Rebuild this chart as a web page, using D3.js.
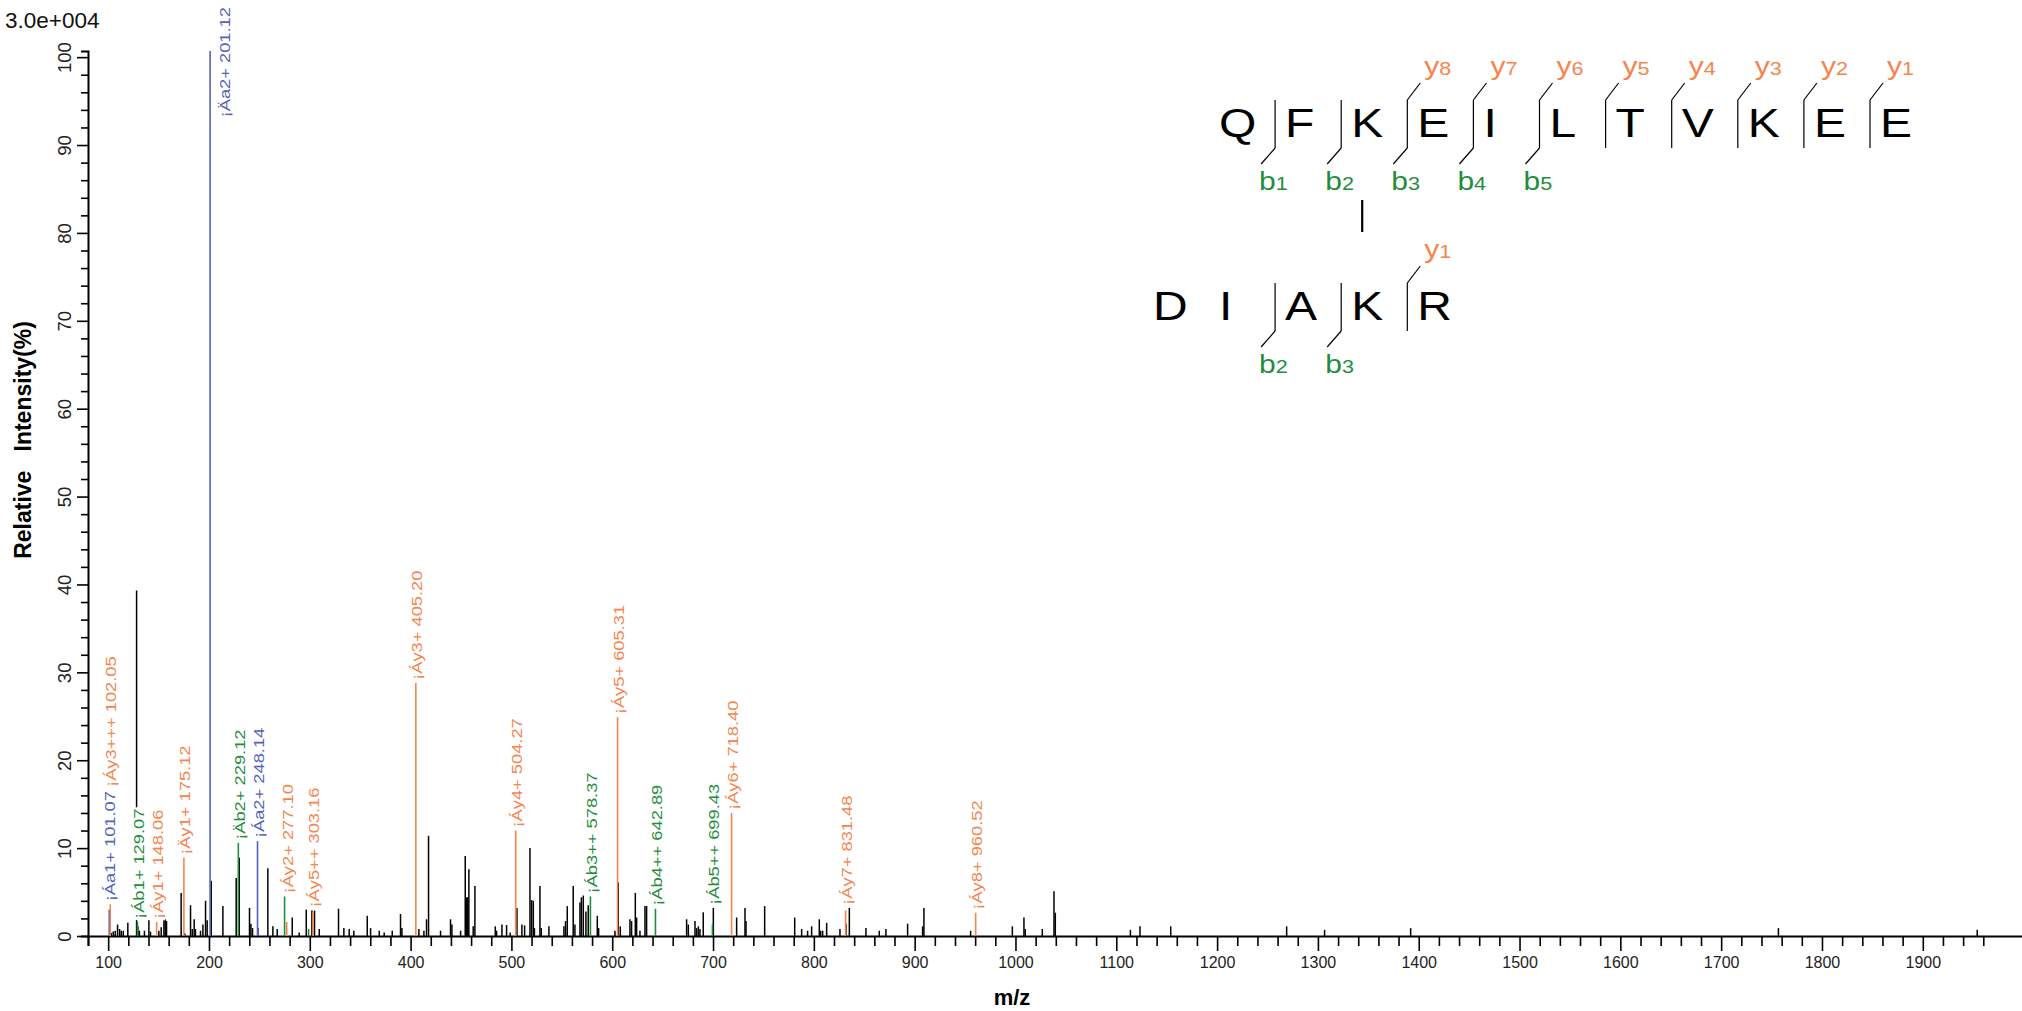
<!DOCTYPE html>
<html><head><meta charset="utf-8">
<script src="https://cdn.jsdelivr.net/npm/d3@7"></script>
<style>
html,body{margin:0;padding:0;background:#fff;}
svg{display:block;font-family:"Liberation Sans",Arial,sans-serif;}
</style></head>
<body>
<svg id="chart" width="2022" height="1011"></svg>
<script>
// ---------------- DATA ----------------
const scaleLabel = "3.0e+004";
const xTitle = "m/z";
const yTitle = "Relative   Intensity(%)";
const xTickValues = d3.range(80, 1961, 20);
const yTickValues = d3.range(0, 101, 2);

// unannotated (black) peaks: m/z, relative intensity
const blackMz = [103.0,105.0,107.0,109.3,111.3,113.0,115.0,119.5,128.2,129.5,131.0,136.0,140.4,142.0,150.3,152.6,155.3,156.6,157.9,
 172.4,176.0,181.7,183.4,185.3,186.6,191.6,194.0,196.6,198.2,202.2,213.8,227.0,230.0,240.2,241.6,243.2,248.5,258.4,263.4,267.7,
 282.6,289.5,296.5,302.1,304.7,309.4,328.5,333.8,339.1,343.7,357.0,360.3,368.9,373.8,381.8,390.0,391.4,408.2,413.2,415.8,417.8,
 429.7,439.6,441.0,449.6,454.2,455.5,456.7,457.8,462.1,463.8,484.0,485.3,490.6,495.2,498.8,505.5,510.4,513.1,518.4,520.0,521.7,
 522.8,528.3,529.6,537.2,552.1,553.7,555.4,561.3,563.0,568.0,569.4,571.3,573.9,576.2,585.2,586.5,602.7,606.0,608.0,617.6,619.2,
 622.9,624.2,627.5,632.5,634.1,673.8,675.5,682.1,683.7,685.4,687.0,690.3,700.3,723.4,731.7,732.7,751.2,781.0,787.9,793.8,797.8,
 805.4,806.7,808.7,812.7,825.9,831.9,835.2,851.7,864.9,871.5,893.0,907.9,909.2,955.5,996.9,1008.4,1009.7,1026.6,1038.2,1039.5,
 1114.0,1123.5,1154.0,1269.0,1306.6,1392.0,1756.8,1954.0];
const blackInt = [0.35,0.5,0.6,1.3,0.8,0.6,0.6,1.5,39.3,1.1,0.6,0.6,1.8,0.5,0.6,1.0,1.8,1.9,1.7,
 4.9,0.3,3.5,0.8,1.9,0.8,0.6,1.3,4.0,1.8,6.3,3.4,6.6,8.9,3.2,1.4,0.9,0.9,7.7,1.1,0.8,
 2.1,0.4,3.0,2.9,2.9,0.8,3.1,0.9,0.8,0.6,2.3,0.9,0.6,0.4,0.6,2.5,0.9,0.8,0.6,1.9,11.4,
 0.6,1.9,1.3,0.6,9.1,4.4,4.4,7.6,1.1,5.7,1.1,0.6,1.3,1.25,0.4,3.2,1.3,1.2,10.0,4.1,4.0,
 0.9,5.7,0.9,1.1,1.1,1.7,3.4,5.7,1.3,3.8,4.4,4.6,2.8,3.5,2.3,0.9,0.6,6.1,1.1,1.9,1.7,
 4.9,2.1,0.6,3.4,3.4,1.9,1.3,1.7,0.9,1.1,0.8,2.7,3.2,2.1,3.2,1.7,3.4,2.1,0.8,0.6,1.1,
 1.9,0.6,0.6,1.5,0.8,1.4,3.2,0.9,0.6,0.8,1.4,1.1,3.2,0.6,1.1,2.1,0.8,0.8,5.1,2.65,
 0.7,1.1,1.1,1.1,0.7,0.9,0.9,0.7];

// annotated fragment peaks
const ionMz   = [101.07,102.05,129.07,148.06,175.12,201.12,229.12,248.14,277.10,303.16,405.20,504.27,578.37,605.31,642.89,699.43,718.40,831.48,960.52];
const ionInt  = [3.0,3.6,1.6,1.6,8.9,100.7,10.6,10.8,1.6,2.7,28.8,12.0,4.5,24.9,3.1,1.3,14.0,2.9,2.65];
const ionType = ["a","y","b","y","y","a","b","a","y","y","y","y","b","y","b","b","y","y","y"];
const ionText = ["¡Áa1+ 101.07","¡Áy3+++ 102.05","¡Áb1+ 129.07","¡Áy1+ 148.06","¡Äy1+ 175.12","¡Äa2+ 201.12","¡Äb2+ 229.12",
 "¡Áa2+ 248.14","¡Áy2+ 277.10","¡Áy5++ 303.16","¡Áy3+ 405.20","¡Áy4+ 504.27","¡Áb3++ 578.37","¡Áy5+ 605.31","¡Áb4++ 642.89",
 "¡Áb5++ 699.43","¡Áy6+ 718.40","¡Áy7+ 831.48","¡Áy8+ 960.52"];
// matched but unlabeled coloured peaks
const extraMz = [275.0, 298.8];
const extraInt = [4.5, 0.8];
const extraType = ["b","b"];

// peptide sequences (cross-linked)
const seqTop = ["Q","F","K","E","I","L","T","V","K","E","E"];
const seqTopB = [1,2,3,4,5];
const seqTopY = [1,2,3,4,5,6,7,8];
const seqBottom = ["D","I","A","K","R"];
const seqBottomB = [2,3];
const seqBottomY = [1];
const linkTop = 2, linkBottom = 3;

// ---------------- STYLE ----------------
const color = {a:"#5462BC", b:"#1F8E3C", y:"#F5844F", black:"#000"};

const svg = d3.select("#chart");
const x = d3.scaleLinear().domain([80, 2000]).range([88, 2023.6]);
const y = d3.scaleLinear().domain([0, 100.7]).range([936, 51]);

// ---- axes ----
const gx = svg.append("g").attr("transform", `translate(0,${y(0)})`)
  .call(d3.axisBottom(x).tickValues(xTickValues).tickSizeOuter(0).tickSize(10)
    .tickFormat(d => d % 100 === 0 ? d : ""));
gx.select(".domain").attr("stroke", "#000").attr("stroke-width", 2);
gx.selectAll(".tick line").attr("stroke", "#000").attr("stroke-width", 1.6)
  .attr("y2", d => d % 100 === 0 ? 15 : 10);
gx.selectAll(".tick text").attr("y", 21).attr("dy", "0.71em")
  .attr("font-size", 16).attr("font-family", "Liberation Sans, Arial").attr("fill", "#222");

const gy = svg.append("g").attr("transform", `translate(${x(80)},0)`)
  .call(d3.axisLeft(y).tickValues(yTickValues).tickSizeOuter(0).tickSize(7)
    .tickFormat(d => d % 10 === 0 ? d : ""));
gy.select(".domain").attr("stroke", "#000").attr("stroke-width", 2);
gy.selectAll(".tick line").attr("stroke", "#000").attr("stroke-width", 1.6)
  .attr("x2", d => d % 10 === 0 ? -11 : -7);
gy.selectAll(".tick text").attr("x", null).attr("dy", null)
  .attr("transform", "translate(-23,0) rotate(-90)")
  .attr("text-anchor", "middle").attr("dy", "0.35em")
  .attr("font-size", 18.5).attr("font-family", "Liberation Sans, Arial").attr("fill", "#222");

// ---- titles ----
svg.append("text").attr("x", 5).attr("y", 28).attr("font-size", 22.5).attr("fill", "#111").text(scaleLabel);
svg.append("text").attr("x", 1012).attr("y", 1005).attr("text-anchor", "middle")
  .attr("font-size", 22).attr("font-weight", "bold").text(xTitle);
svg.append("text").attr("transform", "translate(31,440) rotate(-90)").attr("text-anchor", "middle")
  .attr("font-size", 23).attr("font-weight", "bold").style("white-space", "pre").text(yTitle);

// ---- peaks ----
const black = blackMz.map((m, i) => ({mz: m, v: blackInt[i], t: "black"}));
const ions = ionMz.map((m, i) => ({mz: m, v: ionInt[i], t: ionType[i], label: ionText[i]}));
const extras = extraMz.map((m, i) => ({mz: m, v: extraInt[i], t: extraType[i]}));

svg.append("g").selectAll("line").data(black).join("line")
  .attr("x1", d => x(d.mz)).attr("x2", d => x(d.mz))
  .attr("y1", y(0)).attr("y2", d => y(d.v))
  .attr("stroke", "#000").attr("stroke-width", 1.5);

svg.append("g").selectAll("line").data(ions.concat(extras)).join("line")
  .attr("x1", d => x(d.mz)).attr("x2", d => x(d.mz))
  .attr("y1", y(0)).attr("y2", d => y(d.v))
  .attr("stroke", d => color[d.t]).attr("stroke-width", 1.6);

// ---- peak labels (rotated, stacked) ----
const stretch = 1.22, lblSize = 15;
const allLines = black.concat(ions, extras);
const placed = [];
const lg = svg.append("g");
ions.sort((a, b) => a.mz - b.mz).forEach(d => {
  const lx = x(d.mz);
  const g = lg.append("g");
  const t = g.append("text").attr("font-size", lblSize).attr("dy", "0.35em")
    .attr("fill", color[d.t]).text(d.label);
  const L = t.node().getComputedTextLength() * stretch;
  let start = y(d.v) - 3;
  // lift above nearby slightly taller lines
  allLines.forEach(o => {
    const ox = x(o.mz), oy = y(o.v);
    if (o !== d && Math.abs(ox - lx) < 4.2 && oy - 3 < start && start - (oy - 3) < 40) start = oy - 3;
  });
  // stack above earlier labels that overlap horizontally
  let moved = true;
  while (moved) {
    moved = false;
    placed.forEach(p => {
      if (Math.abs(p.x - lx) < 14 && start > p.end - 4 && start - L < p.start) {
        start = p.end - 4; moved = true;
      }
    });
  }
  let cx = lx + 1;
  if (start - L < 5) { cx = lx + 15; start = 7 + L; }
  placed.push({x: cx, start: start, end: start - L});
  g.attr("transform", `translate(${cx},${start}) rotate(-90) scale(${stretch},1)`);
  g.insert("rect", "text").attr("x", -1).attr("y", -lblSize * 0.5)
    .attr("width", L / stretch + 2).attr("height", lblSize * 1.0).attr("fill", "#fff");
});

// ---- sequence panel ----
const slot = d3.scaleLinear().domain([0, 1]).range([1209, 1275.1]);
const seqStretch = 1.2;
const rows = [
  {seq: seqTop, b: seqTopB, yy: seqTopY, base: 137, shift: 0},
  {seq: seqBottom, b: seqBottomB, yy: seqBottomY, base: 320, shift: linkTop - linkBottom}
];
const sg = svg.append("g");
function ionLabel(xp, yp, letter, num, col) {
  const t = sg.append("text").attr("transform", `translate(${xp},${yp}) scale(${seqStretch},1)`)
    .attr("fill", col).attr("font-size", 25);
  t.append("tspan").text(letter);
  t.append("tspan").attr("font-size", 18).text(num);
}
rows.forEach(r => {
  const n = r.seq.length;
  r.seq.forEach((aa, i) => {
    sg.append("text").attr("transform", `translate(${slot(i + r.shift) + 10},${r.base}) scale(${seqStretch},1)`)
      .attr("font-size", 40).attr("fill", "#000").text(aa);
  });
  const seps = new Set(r.b.map(k => k).concat(r.yy.map(k => n - k)));
  seps.forEach(k => {
    const sx = slot(k + r.shift);
    sg.append("line").attr("x1", sx).attr("x2", sx).attr("y1", r.base - 37).attr("y2", r.base + 11)
      .attr("stroke", "#000").attr("stroke-width", 1.2);
  });
  r.b.forEach(k => {
    const sx = slot(k + r.shift);
    sg.append("line").attr("x1", sx).attr("y1", r.base + 11).attr("x2", sx - 14).attr("y2", r.base + 27)
      .attr("stroke", "#000").attr("stroke-width", 1.2);
    ionLabel(sx - 16, r.base + 53, "b", k, color.b);
  });
  r.yy.forEach(k => {
    const sx = slot(n - k + r.shift);
    sg.append("line").attr("x1", sx).attr("y1", r.base - 37).attr("x2", sx + 13).attr("y2", r.base - 54)
      .attr("stroke", "#000").attr("stroke-width", 1.2);
    ionLabel(sx + 17, r.base - 62, "y", k, color.y);
  });
});
// cross-link bar
const lkx = slot(linkTop) + 21;
sg.append("line").attr("x1", lkx).attr("x2", lkx).attr("y1", rows[0].base + 63).attr("y2", rows[1].base - 88)
  .attr("stroke", "#000").attr("stroke-width", 2.2);
</script>
</body></html>
